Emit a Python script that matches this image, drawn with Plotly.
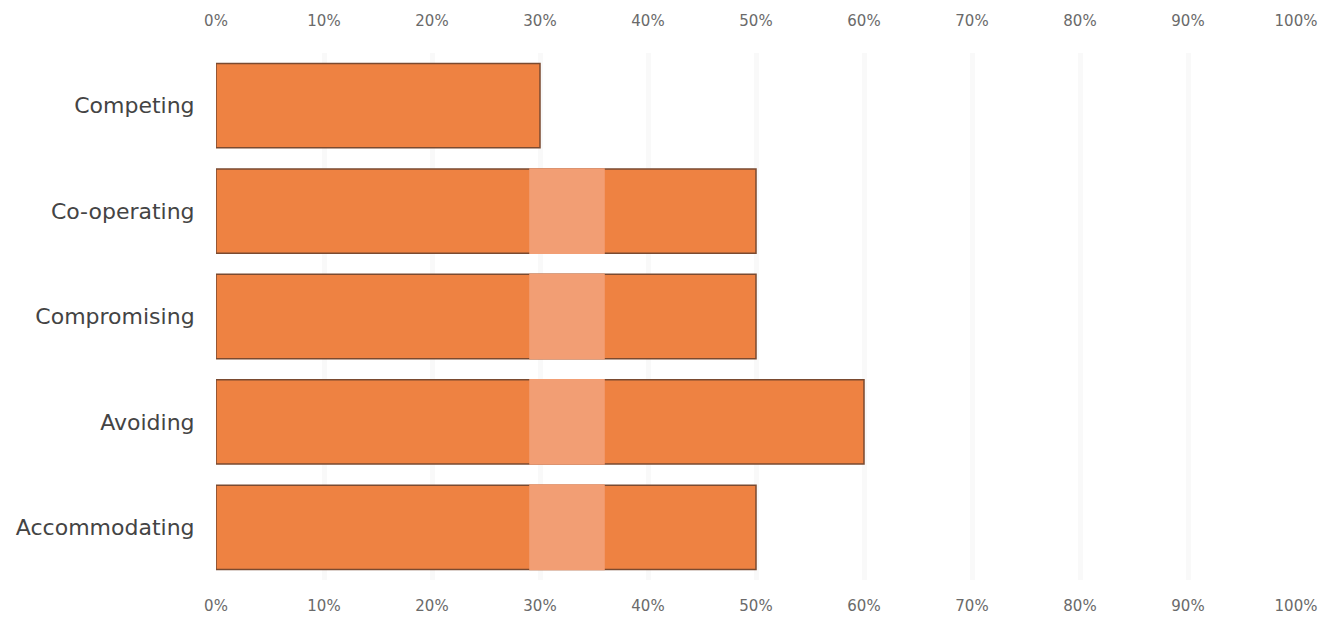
import plotly.graph_objects as go

# Conflict-handling styles and share of responses (%)
styles = ["Competing", "Co-operating", "Compromising", "Avoiding", "Accommodating"]
shares = [30, 50, 50, 60, 50]

# Lighter highlight strip drawn across the longer bars (% range)
strip_styles = ["Co-operating", "Compromising", "Avoiding", "Accommodating"]
strip_from = 29
strip_to = 36

tick_vals = list(range(0, 101, 10))
tick_text = [f"{v}%" for v in tick_vals]

BAR_COLOR = "#EE8242"
EDGE_COLOR = "#7a4a30"
STRIP_COLOR = "#F29E74"

fig = go.Figure()

fig.add_trace(go.Bar(
    y=styles, x=shares, orientation="h",
    marker=dict(color=BAR_COLOR, line=dict(color=EDGE_COLOR, width=1.5)),
    width=0.8, hoverinfo="x+y", showlegend=False,
))

fig.add_trace(go.Bar(
    y=strip_styles, x=[strip_to - strip_from] * len(strip_styles),
    base=[strip_from] * len(strip_styles), orientation="h",
    marker=dict(color=STRIP_COLOR, line=dict(width=0)),
    width=0.815, hoverinfo="skip", showlegend=False,
))

# invisible copy so the top axis is rendered
fig.add_trace(go.Scatter(
    x=shares, y=styles, xaxis="x2", mode="markers",
    marker=dict(opacity=0), hoverinfo="skip", showlegend=False,
))

axis_common = dict(
    range=[0, 100], tickvals=tick_vals, ticktext=tick_text,
    tickfont=dict(family="DejaVu Sans", size=15, color="#6a6a6a"),
    ticks="outside", tickcolor="rgba(0,0,0,0)",
    zeroline=False, showline=False, automargin=False,
)

fig.update_layout(
    width=1344, height=623,
    margin=dict(l=216, r=48, t=53, b=43),
    paper_bgcolor="white", plot_bgcolor="white",
    barmode="overlay",
    xaxis=dict(**axis_common, side="bottom", ticklen=12,
               showgrid=True, gridcolor="#f9f9f9", gridwidth=5),
    xaxis2=dict(**axis_common, side="top", overlaying="x", ticklen=20,
                showgrid=False),
    yaxis=dict(autorange="reversed", showgrid=False, zeroline=False,
               automargin=False,
               tickfont=dict(family="DejaVu Sans", size=22, color="#444444"),
               ticks="outside", ticklen=16, tickcolor="rgba(0,0,0,0)"),
    bargap=0.2,
)

fig.write_html("out.html")
